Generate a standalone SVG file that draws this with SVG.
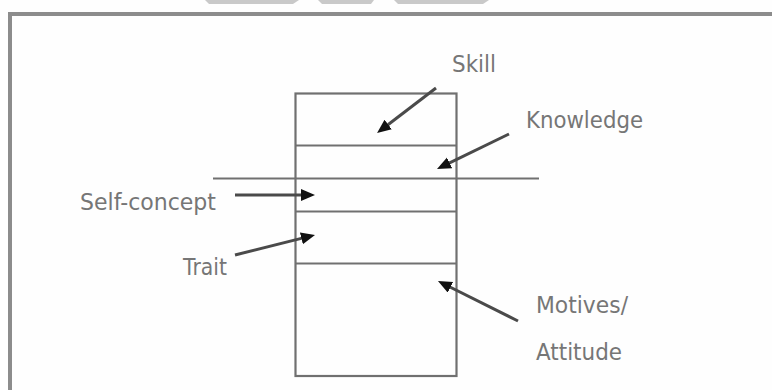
<svg xmlns="http://www.w3.org/2000/svg" width="772" height="390" viewBox="0 0 772 390">
  <style>
    .frame { stroke: #8c8c8c; stroke-width: 4; fill: none; }
    .box { stroke: #707070; stroke-width: 2.2; fill: none; }
    .arrow { stroke: #4a4a4a; stroke-width: 3; fill: none; marker-end: url(#head); }
    .label { font-family: "DejaVu Sans", "Liberation Sans", sans-serif; font-size: 23px; fill: #767676; }
    .tab { fill: #c9c9c9; }
  </style>
  <defs>
    <marker id="head" markerUnits="userSpaceOnUse" markerWidth="16" markerHeight="14" refX="4" refY="6" orient="auto">
      <path d="M0,0 L14,6 L0,12 Z" fill="#111"/>
    </marker>
  </defs>
  <rect width="772" height="390" fill="#fefefe"/>
  <g id="top-fragments">
    <polygon class="tab" points="205,0 299,0 293,4 209,4"/>
    <polygon class="tab" points="318,0 374,0 371,4 322,4"/>
    <polygon class="tab" points="394,0 489,0 483,4 398,4"/>
  </g>
  <g id="frame">
    <line class="frame" x1="8" y1="14" x2="772" y2="14"/>
    <line class="frame" x1="10" y1="14" x2="10" y2="390"/>
  </g>
  <g id="stack">
    <rect class="box" x="295.5" y="93.5" width="161" height="282.5"/>
    <line class="box" x1="295.5" y1="145.5" x2="456.5" y2="145.5"/>
    <line class="box" x1="295.5" y1="211.5" x2="456.5" y2="211.5"/>
    <line class="box" x1="295.5" y1="263.5" x2="456.5" y2="263.5"/>
  </g>
  <g id="divider">
    <line class="box" x1="213" y1="178.5" x2="539" y2="178.5"/>
  </g>
  <g id="connectors">
    <line class="arrow" x1="436" y1="88" x2="385" y2="127"/>
    <line class="arrow" x1="509" y1="134" x2="446" y2="164.6"/>
    <line class="arrow" x1="235" y1="195" x2="305" y2="195"/>
    <line class="arrow" x1="235" y1="255" x2="305.3" y2="237.4"/>
    <line class="arrow" x1="518" y1="321" x2="446.9" y2="285.5"/>
  </g>
  <g id="skill"><text class="label" x="452" y="72" textLength="44" lengthAdjust="spacingAndGlyphs">Skill</text></g>
  <g id="knowledge"><text class="label" x="526" y="128" textLength="117" lengthAdjust="spacingAndGlyphs">Knowledge</text></g>
  <g id="self-concept"><text class="label" x="80" y="210" textLength="136" lengthAdjust="spacingAndGlyphs">Self-concept</text></g>
  <g id="trait"><text class="label" x="183" y="275" textLength="44" lengthAdjust="spacingAndGlyphs">Trait</text></g>
  <g id="motives">
    <text class="label" x="536" y="313" textLength="92" lengthAdjust="spacingAndGlyphs">Motives/</text>
    <text class="label" x="536" y="360" textLength="86" lengthAdjust="spacingAndGlyphs">Attitude</text>
  </g>
</svg>
